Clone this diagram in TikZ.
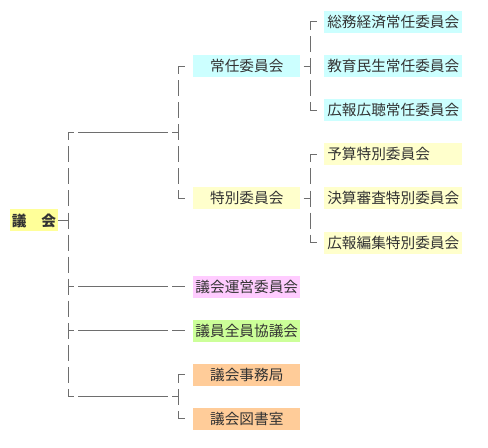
\documentclass[tikz,border=0pt]{standalone}
\usepackage{fontspec}
\setmainfont{Noto Sans CJK JP}
\definecolor{boxcyan}{RGB}{204,255,255}
\definecolor{boxyellow}{RGB}{255,255,204}
\definecolor{boxgold}{RGB}{255,255,153}
\definecolor{boxpink}{RGB}{255,204,255}
\definecolor{boxgreen}{RGB}{204,255,153}
\definecolor{boxorange}{RGB}{255,204,153}
\definecolor{txtgray}{RGB}{51,51,51}
\definecolor{linegray}{RGB}{110,110,110}
\usepackage{tikz}
\usetikzlibrary{calc}

\begin{document}
\begin{tikzpicture}[x=0.75pt,y=-0.75pt,
  every node/.style={font=\fontsize{11}{13}\selectfont,text=txtgray,inner sep=0pt,minimum height=16.5pt},
  topbox/.style={minimum width=36pt,font=\fontsize{11}{13}\selectfont\bfseries},
  midbox/.style={minimum width=80.25pt,anchor=west},
  subbox/.style={text width=99pt,inner xsep=2.25pt,align=left,anchor=west},
  tline/.style={draw=linegray,line width=0.75pt},
  vline/.style={tline,dash pattern=on 12pt off 4.54pt,dash phase=6pt},
  branch/.style={tline,dash pattern=on 4.5pt off 3pt on 67.5pt off 3pt on 4.5pt off 3pt},
  longstub/.style={tline,dash pattern=on 4.5pt off 3pt on 67.5pt off 3pt on 9.75pt off 6pt},
  stub/.style={tline,dash pattern=on 5.25pt off 6pt}]
  \useasboundingbox (0,0) rectangle (488,448);
  % council
  \node[topbox,fill=boxgold] (gikai) at (34,220.5) {議　会};
  % standing committees
  \node[midbox,fill=boxcyan] (joinin) at (193,66.1) {常任委員会};
  \node[subbox,fill=boxcyan] (soumu) at (324,22) {総務経済常任委員会};
  \node[subbox,fill=boxcyan] (kyouiku) at (324,66.1) {教育民生常任委員会};
  \node[subbox,fill=boxcyan] (kouhou) at (324,110.2) {広報広聴常任委員会};
  % special committees
  \node[midbox,fill=boxyellow] (tokubetsu) at (193,198.4) {特別委員会};
  \node[subbox,fill=boxyellow] (yosan) at (324,154.4) {予算特別委員会};
  \node[subbox,fill=boxyellow] (kessan) at (324,198.4) {決算審査特別委員会};
  \node[subbox,fill=boxyellow] (henshu) at (324,242.6) {広報編集特別委員会};
  % others
  \node[midbox,fill=boxpink] (unei) at (193,286.6) {議会運営委員会};
  \node[midbox,fill=boxgreen] (zenin) at (193,330.7) {議員全員協議会};
  \node[midbox,fill=boxorange] (jimu) at (193,374.9) {議会事務局};
  \node[midbox,fill=boxorange] (tosho) at (193,418.9) {議会図書室};
  % joints
  \coordinate (ttop) at (68,132.3);
  \coordinate (tbot) at (68,396.9);
  \coordinate (jiin) at (178,132.3);
  \coordinate (jbot) at (178,396.9);
  \coordinate (jsub) at (310,66.1);
  \coordinate (tsub) at (310,198.4);
  % trunk
  \draw[tline] (gikai.east) -- (gikai.east -| ttop);
  \draw[vline] (ttop) -- (tbot);
  \draw[branch] (ttop) -- (jiin);
  \draw[branch] (tbot) -- (jbot);
  \draw[longstub] (unei.west -| ttop) -- (unei.west);
  \draw[longstub] (zenin.west -| ttop) -- (zenin.west);
  % committees
  \draw[vline] (joinin.west -| jiin) -- (tokubetsu.west -| jiin);
  \draw[stub] (joinin.west -| jiin) -- (joinin.west);
  \draw[stub] (tokubetsu.west -| jiin) -- (tokubetsu.west);
  \draw[tline,shorten <=2.25pt] (joinin.east) -- (jsub);
  \draw[vline] (soumu.west -| jsub) -- (kouhou.west -| jsub);
  \foreach \n in {soumu,kouhou}
    \draw[stub] (\n.west -| jsub) -- (\n.west);
  \draw[tline,shorten <=2.25pt] (tokubetsu.east) -- (tsub);
  \draw[vline] (yosan.west -| tsub) -- (henshu.west -| tsub);
  \foreach \n in {yosan,henshu}
    \draw[stub] (\n.west -| tsub) -- (\n.west);
  % office and library
  \draw[vline] (jimu.west -| jbot) -- (tosho.west -| jbot);
  \draw[stub] (jimu.west -| jbot) -- (jimu.west);
  \draw[stub] (tosho.west -| jbot) -- (tosho.west);
\end{tikzpicture}
\end{document}
